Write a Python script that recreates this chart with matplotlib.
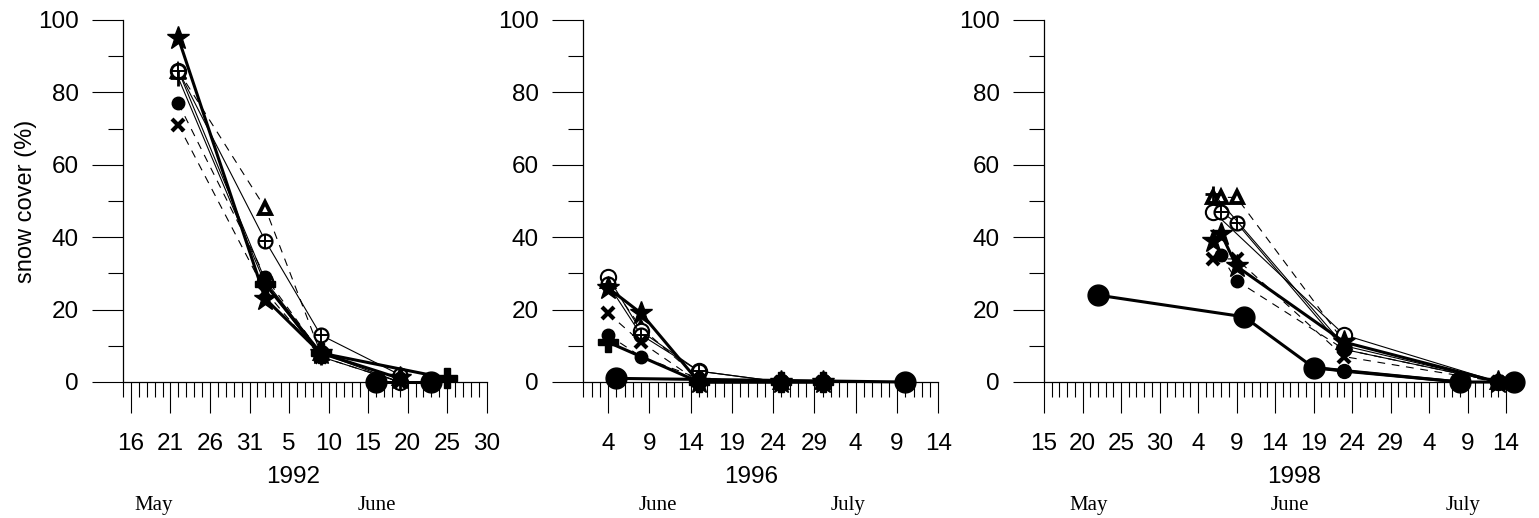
import matplotlib
matplotlib.use('Agg')
import matplotlib.pyplot as plt
import pandas as pd

plt.rcParams['font.family'] = ['Liberation Sans', 'DejaVu Sans']

# ---------------- 1992 ----------------
d92_star = ['1992-05-22', '1992-06-02', '1992-06-09', '1992-06-19']
v92_star = [95, 23, 8, 1]
d92_oplus = ['1992-05-22', '1992-06-02', '1992-06-09', '1992-06-19']
v92_oplus = [86, 39, 13, 2]
d92_tri = ['1992-05-22', '1992-06-02', '1992-06-09', '1992-06-19']
v92_tri = [86, 48, 8, 1]
d92_ring = ['1992-05-22', '1992-06-02', '1992-06-09', '1992-06-19']
v92_ring = [86, 28, 8, 0]
d92_plus = ['1992-05-22', '1992-06-02', '1992-06-09', '1992-06-19']
v92_plus = [84, 27, 7, 0]
d92_dot = ['1992-05-22', '1992-06-02', '1992-06-09', '1992-06-19']
v92_dot = [77, 29, 8, 1]
d92_cross = ['1992-05-22', '1992-06-02', '1992-06-09', '1992-06-19']
v92_cross = [71, 25, 7, 0]
d92_plusb = ['1992-06-02', '1992-06-09', '1992-06-25']
v92_plusb = [27, 8, 1]
d92_big = ['1992-06-16', '1992-06-23']
v92_big = [0, 0]

# ---------------- 1996 ----------------
d96_ring = ['1996-06-04', '1996-06-08', '1996-06-15', '1996-06-25', '1996-06-30']
v96_ring = [29, 14, 3, 0, 0]
d96_tri = ['1996-06-04', '1996-06-08', '1996-06-15', '1996-06-25', '1996-06-30']
v96_tri = [28, 15, 1, 0, 0]
d96_star = ['1996-06-04', '1996-06-08', '1996-06-15', '1996-06-25', '1996-06-30']
v96_star = [26, 19, 0, 0, 0]
d96_oplus = ['1996-06-04', '1996-06-08', '1996-06-15', '1996-06-25', '1996-06-30']
v96_oplus = [27, 13, 3, 0, 0]
d96_cross = ['1996-06-04', '1996-06-08', '1996-06-15', '1996-06-25', '1996-06-30']
v96_cross = [19, 11, 0, 0, 0]
d96_dot = ['1996-06-04', '1996-06-08', '1996-06-15', '1996-06-25', '1996-06-30']
v96_dot = [13, 7, 1, 0, 0]
d96_plusb = ['1996-06-04', '1996-06-15', '1996-06-25', '1996-06-30']
v96_plusb = [11, 0, 0, 0]
d96_big = ['1996-06-05', '1996-07-10']
v96_big = [1, 0]

# ---------------- 1998 ----------------
d98_plus = ['1998-06-06', '1998-06-23', '1998-07-13']
v98_plus = [52, 10, 0]
d98_tri = ['1998-06-06', '1998-06-07', '1998-06-09', '1998-06-23', '1998-07-13']
v98_tri = [51, 51, 51, 11, 0]
d98_ring = ['1998-06-06', '1998-06-23', '1998-07-13']
v98_ring = [47, 13, 0]
d98_oplus = ['1998-06-07', '1998-06-09', '1998-06-23', '1998-07-13']
v98_oplus = [47, 44, 9, 0]
d98_star = ['1998-06-06', '1998-06-07', '1998-06-09', '1998-06-23', '1998-07-13']
v98_star = [39, 41, 32, 11, 0]
d98_cross = ['1998-06-06', '1998-06-09', '1998-06-23', '1998-07-13']
v98_cross = [34, 34, 7, 0]
d98_dot = ['1998-06-07', '1998-06-09', '1998-06-23', '1998-07-13']
v98_dot = [35, 28, 9, 0]
d98_big = ['1998-05-22', '1998-06-10', '1998-06-19', '1998-07-08', '1998-07-15']
v98_big = [24, 18, 4, 0, 0]
d98_dotb = ['1998-06-19', '1998-06-23', '1998-07-08']
v98_dotb = [4, 3, 0]

years = ['1992', '1996', '1998']
xlims = [('1992-05-15', '1992-06-30'), ('1996-06-01', '1996-07-14'),
         ('1998-05-15', '1998-07-14')]
tick_starts = ['1992-05-16', '1996-06-04', '1998-05-15']
months = [[('May', 0.083), ('June', 0.698)],
          [('June', 0.211), ('July', 0.746)],
          [('May', 0.096), ('June', 0.532), ('July', 0.908)]]
year_x = [0.467, 0.474, 0.542]

panels = [
    [('tri', d92_tri, v92_tri), ('ring', d92_ring, v92_ring),
     ('oplus', d92_oplus, v92_oplus), ('plus', d92_plus, v92_plus),
     ('dot', d92_dot, v92_dot), ('cross', d92_cross, v92_cross),
     ('plusb', d92_plusb, v92_plusb), ('big', d92_big, v92_big),
     ('star', d92_star, v92_star)],
    [('tri', d96_tri, v96_tri), ('ring', d96_ring, v96_ring),
     ('oplus', d96_oplus, v96_oplus), ('dot', d96_dot, v96_dot),
     ('cross', d96_cross, v96_cross), ('plusb', d96_plusb, v96_plusb),
     ('big', d96_big, v96_big), ('star', d96_star, v96_star)],
    [('tri', d98_tri, v98_tri), ('ring', d98_ring, v98_ring),
     ('oplus', d98_oplus, v98_oplus), ('plus', d98_plus, v98_plus),
     ('dot', d98_dot, v98_dot), ('cross', d98_cross, v98_cross),
     ('dotb', d98_dotb, v98_dotb), ('big', d98_big, v98_big),
     ('star', d98_star, v98_star)],
]

DASH = (0, (7, 6))
STYLE = {
    'star': dict(marker='*', ms=17, lw=2.2, ls='-'),
    'big': dict(marker='o', ms=15, lw=2.2, ls='-'),
    'dotb': dict(marker='o', ms=10, lw=2.2, ls='-'),
    'plusb': dict(marker='P', ms=14, lw=2.2, ls='-'),
    'dot': dict(marker='o', ms=9, lw=0.8, ls=DASH),
    'cross': dict(marker='x', ms=9, mew=3, lw=0.8, ls=DASH),
    'tri': dict(marker='^', ms=9, mfc='white', mew=2.8, lw=0.8, ls=DASH),
    'ring': dict(marker='o', ms=11, mfc='white', mew=1.5, lw=0.8, ls='-'),
    'oplus': dict(marker='o', ms=10, mfc='white', mew=1.6, lw=0.8, ls='-'),
    'plus': dict(marker='+', ms=11, mew=2, lw=0.8, ls='-'),
}

fig = plt.figure(figsize=(15.39, 5.18), dpi=100)
lefts = [123 / 1539, 583.3 / 1539, 1044 / 1539]
widths = [363.7 / 1539, 355 / 1539, 462 / 1539]
bottom, height = 1 - 382 / 518, 362 / 518

for i in range(3):
    ax = fig.add_axes([lefts[i], bottom, widths[i], height])
    for name, d, v in panels[i]:
        x = pd.to_datetime(d)
        ax.plot(x, v, color='black', clip_on=False, **STYLE[name])
        if name == 'oplus':
            ax.plot(x, v, ls='none', marker='+', ms=10, mew=1.4,
                    color='black', clip_on=False)

    ax.set_xlim(pd.Timestamp(xlims[i][0]), pd.Timestamp(xlims[i][1]))
    ax.set_ylim(0, 100)
    ax.spines['top'].set_visible(False)
    ax.spines['right'].set_visible(False)
    for s in ('left', 'bottom'):
        ax.spines[s].set_linewidth(0.9)

    major = pd.date_range(tick_starts[i], xlims[i][1], freq='5D')
    minor = pd.date_range(xlims[i][0], xlims[i][1], freq='1D')
    ax.set_xticks(major)
    ax.set_xticklabels([str(t.day) for t in major])
    ax.set_xticks(minor, minor=True)
    ax.set_yticks(range(0, 101, 20))
    ax.set_yticks(range(10, 100, 20), minor=True)

    ax.tick_params(which='major', length=22, width=0.8, labelsize=17.5,
                   direction='out')
    ax.tick_params(which='minor', length=11, width=0.8, direction='out')
    ax.tick_params(axis='x', which='major', pad=15)
    ax.tick_params(axis='y', which='major', pad=10)

    ax.text(year_x[i], -0.262, years[i], transform=ax.transAxes,
            ha='center', va='center', fontsize=17.5)
    for m, mx in months[i]:
        ax.text(mx, -0.34, m, transform=ax.transAxes, ha='center',
                va='center', fontsize=15, family='Liberation Serif')

    if i == 0:
        ax.set_ylabel('snow cover (%)', fontsize=17)
        ax.yaxis.set_label_coords(-0.236, 0.5)

fig.savefig('out.png', dpi=100)
